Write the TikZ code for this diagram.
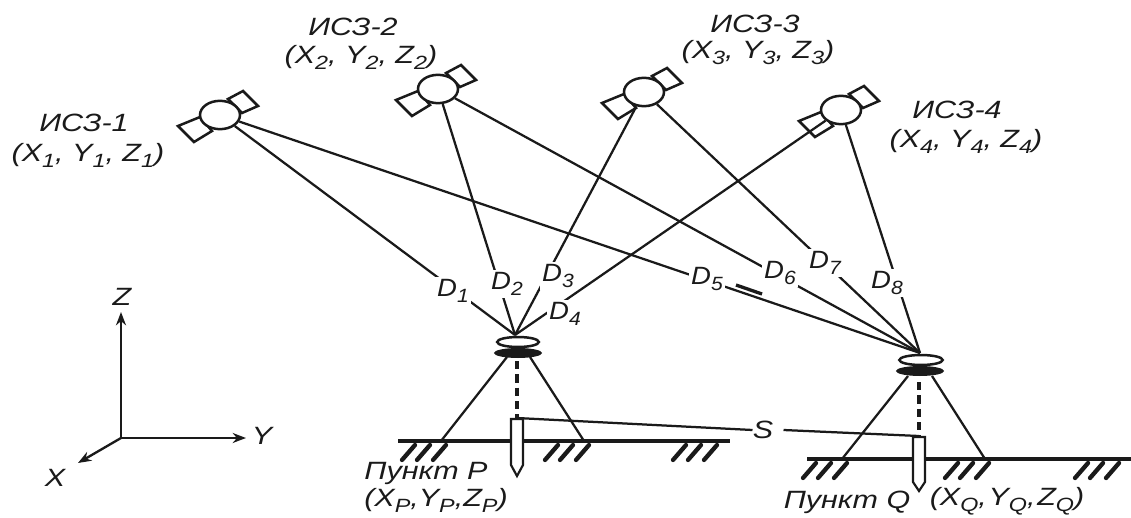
\documentclass[tikz,border=0pt]{standalone}
\usepackage{fontspec}
\setmainfont{Liberation Sans}
\newfontfamily\lblfont[FakeStretch=1.22]{Liberation Sans}
\newfontfamily\dfont[FakeStretch=1.1]{Liberation Sans}
\usetikzlibrary{shapes.geometric,arrows.meta}
\definecolor{ink}{HTML}{1A1A1A}
\newcommand{\sbs}[1]{\raisebox{-0.45ex}{\fontsize{11.5}{12}\selectfont #1}}
\newcommand{\coordtext}[3]{(X\sbs{#1},\ Y\sbs{#2},\ Z\sbs{#3})}
\newcommand{\coordtight}[4]{(X\sbs{#1},\hspace{#4}Y\sbs{#2},\hspace{#4}Z\sbs{#3})}
\newcommand{\satellite}[3]{%
  \begin{scope}[shift={(#2,#3)}]
    \draw[line] (-42,11) -- (-26,27) -- (-8,16) -- (-20,2) -- cycle;
    \draw[line] (8,-16) -- (23,-24) -- (38,-9) -- (22,-2) -- cycle;
    \node[satbody] (#1) at (0,0) {};
  \end{scope}}
\newcommand{\hatchgroup}[3]{%
  \foreach \dx in {0,15,31} \draw[hatch] (#1+\dx,#3) -- (#1+\dx+13,#2);}
\tikzset{
  line/.style={draw=ink,line width=1.5pt},
  thinline/.style={draw=ink,line width=1.35pt},
  satbody/.style={ellipse,draw=ink,line width=1.5pt,fill=white,minimum width=24pt,minimum height=17pt,inner sep=0pt},
  hatch/.style={draw=ink,line width=2.6pt,line cap=round},
  ground/.style={draw=ink,line width=2.2pt},
  dashline/.style={draw=ink,line width=2pt,dash pattern=on 5pt off 3pt},
  dlabel/.style={fill=white,inner sep=1.5pt,text=ink,font=\fontsize{15}{17}\selectfont\dfont\itshape},
  txt/.style={text=ink,inner sep=0pt,font=\fontsize{15}{17}\selectfont\lblfont\itshape},
  stake/.style={draw=ink,line width=1.3pt,fill=white},
  axis/.style={draw=ink,line width=1.4pt,-{Stealth[length=8pt,width=6pt]}},
}
\begin{document}
\begin{tikzpicture}[x=0.6pt,y=-0.6pt]
\useasboundingbox (0,0) rectangle (1131,518);
\clip (0,0) rectangle (1131,518);
\fill[white] (0,0) rectangle (1131,518);

% satellites
\satellite{s1}{220}{115}
\satellite{s2}{438}{89}
\satellite{s3}{644}{92}
\satellite{s4}{841}{110}

% convergence points
\coordinate (P) at (515,335);
\coordinate (Q) at (920,353);

% ranges
\foreach \s in {s1,s2,s3,s4} {
  \draw[thinline] (\s) -- (P);
  \draw[thinline] (\s) -- (Q);
}
\draw[line width=2pt,draw=ink] (736,285) -- (762,294);

% range labels
\node[dlabel] (d1) at (453,291) {D\sbs{1}};
\node[dlabel] (d2) at (507,284) {D\sbs{2}};
\node[dlabel] (d3) at (558,276) {D\sbs{3}};
\node[dlabel] (d4) at (565,314) {D\sbs{4}};
\node[dlabel] (d5) at (707,279) {D\sbs{5}};
\node[dlabel] (d6) at (780,273) {D\sbs{6}};
\node[dlabel] (d7) at (825,263) {D\sbs{7}};
\node[dlabel] (d8) at (887,283) {D\sbs{8}};

% receiver P
\node[ellipse,draw=ink,line width=1.5pt,fill=white,minimum width=25pt,minimum height=6pt,inner sep=0pt] (rp) at (518,342) {};
\node[ellipse,fill=ink,minimum width=29pt,minimum height=6pt,inner sep=0pt] (bp) at (518,353) {};
\coordinate (gpl) at (441,441);
\coordinate (gpr) at (584,441);
\draw[thinline] (507,357) -- (gpl);
\draw[thinline] (530,357) -- (gpr);
\draw[ground] (398,441) -- (730,441);
\hatchgroup{402}{445}{460}
\hatchgroup{545}{445}{460}
\hatchgroup{673}{445}{460}
\coordinate (tp) at (517,418);
\draw[dashline] (517,361) -- (tp);
\draw[stake] (511,419) -- (523,419) -- (523,465) -- (517,476) -- (511,465) -- cycle;

% receiver Q
\node[ellipse,draw=ink,line width=1.5pt,fill=white,minimum width=26pt,minimum height=6pt,inner sep=0pt] (rq) at (921,360) {};
\node[ellipse,fill=ink,minimum width=29pt,minimum height=6pt,inner sep=0pt] (bq) at (920,371) {};
\coordinate (gql) at (842,459);
\coordinate (gqr) at (985,459);
\draw[thinline] (908,376) -- (gql);
\draw[thinline] (932,376) -- (gqr);
\draw[ground] (807,459) -- (1131,459);
\hatchgroup{803}{463}{478}
\hatchgroup{945}{463}{478}
\hatchgroup{1075}{463}{478}
\coordinate (tq) at (919,436);
\draw[dashline] (919,382) -- (tq);
\draw[stake] (913,437) -- (925,437) -- (925,482) -- (919,491) -- (913,482) -- cycle;

% baseline S
\node[txt] (S) at (763,430) {S};
\draw[thinline] (tp) -- (S.west);
\draw[thinline] (S.east) ++(10,0) -- (tq);

% axes
\coordinate (O) at (121,438);
\node[txt] (zl) at (122,297) {Z};
\node[txt] (yl) at (262,436) {Y};
\node[txt] (xl) at (55,478) {X};
\coordinate (zt) at (121,312);
\coordinate (yt) at (246,438);
\coordinate (xt) at (78,463);
\draw[axis] (O) -- (zt);
\draw[axis] (O) -- (yt);
\draw[axis] (O) -- (xt);

% texts
\node[txt] (t1) at (84,123) {ИСЗ-1};
\node[txt] (c1) at (88,155) {\coordtext{1}{1}{1}};
\node[txt] (t2) at (353,27) {ИСЗ-2};
\node[txt] (c2) at (361,57) {\coordtext{2}{2}{2}};
\node[txt] (t3) at (755,24) {ИСЗ-3};
\node[txt] (c3) at (758,53) {\coordtext{3}{3}{3}};
\node[txt] (t4) at (957,110) {ИСЗ-4};
\node[txt] (c4) at (966,141) {\coordtext{4}{4}{4}};
\node[txt] (tp2) at (426,473) {Пункт P};
\node[txt] (cp) at (436,500) {\coordtight{P}{P}{P}{0pt}};
\node[txt] (tq2) at (847,502) {Пункт Q};
\node[txt] (cq) at (1007,501) {\coordtight{Q}{Q}{Q}{1pt}};
\end{tikzpicture}
\end{document}
